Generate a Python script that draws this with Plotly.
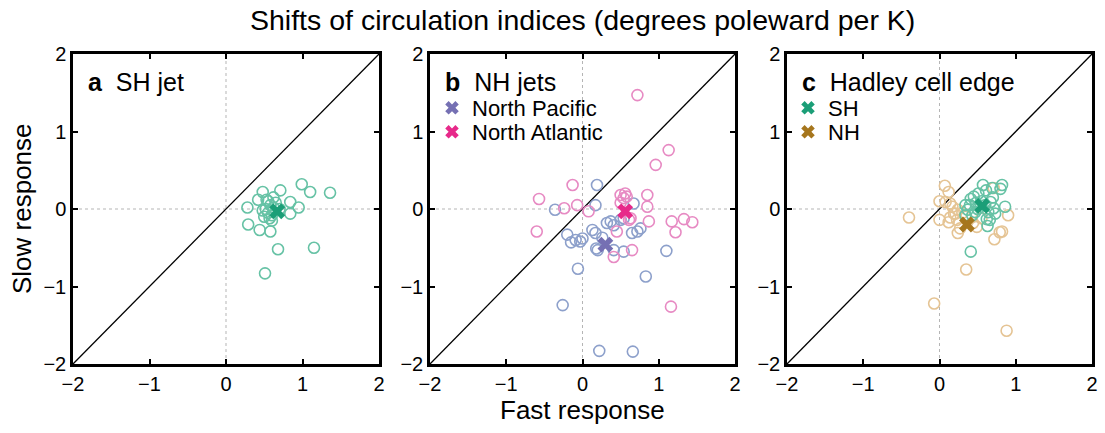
import plotly.graph_objects as go

# ---------------- data ----------------
# Panel a: SH jet
sh_jet_fast = [0.99, 1.10, 1.36, 0.48, 0.71, 0.42, 0.62, 0.28, 0.84, 0.95, 0.84, 0.29, 0.44, 0.58,
               0.68, 1.15, 0.51, 0.55, 0.58, 0.52, 0.55, 0.60, 0.62, 0.50, 0.57, 0.65, 0.70, 0.53, 0.48, 0.60]
sh_jet_slow = [0.32, 0.22, 0.21, 0.22, 0.24, 0.12, 0.15, 0.02, 0.09, 0.02, -0.06, -0.20, -0.27, -0.29,
               -0.52, -0.50, -0.83, 0.10, 0.05, 0.00, -0.05, -0.08, 0.02, -0.10, -0.12, 0.08, 0.00, 0.12, -0.02, -0.15]
sh_jet_mean = [0.67, -0.03]

# Panel b: NH jets
np_fast = [-0.36, 0.19, 0.17, 0.67, -0.20, -0.15, -0.09, -0.03, 0.00, 0.13, 0.17, 0.32, 0.37, 0.41,
           0.50, 0.54, 0.65, 0.72, 0.76, 0.18, 0.20, 0.41, 0.54, 1.10, -0.06, 0.83, -0.26, 0.22, 0.66, 0.26]
np_slow = [-0.01, 0.31, 0.05, 0.07, -0.33, -0.43, -0.40, -0.42, -0.38, -0.27, -0.31, -0.18, -0.16, -0.21,
           -0.14, -0.12, -0.31, -0.29, -0.25, -0.51, -0.53, -0.53, -0.55, -0.54, -0.77, -0.87, -1.24, -1.83, -1.84, -0.37]
np_mean = [0.30, -0.46]

na_fast = [0.72, 1.13, 0.96, -0.13, -0.57, -0.24, -0.07, 0.08, 0.50, 0.56, 0.58, 0.54, 0.85, 0.85,
           0.61, 0.63, 0.87, 1.17, 1.33, 1.44, 1.22, -0.60, 0.45, 0.65, 0.41, 1.16, 0.50]
na_slow = [1.47, 0.76, 0.57, 0.31, 0.13, 0.01, 0.05, -0.03, 0.18, 0.20, 0.16, 0.14, 0.18, 0.03,
           -0.14, -0.12, -0.16, -0.16, -0.13, -0.17, -0.30, -0.29, -0.29, -0.53, -0.62, -1.26, 0.08]
na_mean = [0.56, -0.03]

# Panel c: Hadley cell edge
hsh_fast = [0.57, 0.82, 0.80, 0.69, 0.51, 0.61, 0.41, 0.45, 0.34, 0.37, 0.86, 0.67, 0.71, 0.73,
            0.62, 0.63, 0.47, 0.43, 0.34, 0.41, 0.64, 0.66, 0.55, 0.50, 0.60, 0.40, 0.48, 0.70]
hsh_slow = [0.31, 0.31, 0.26, 0.27, 0.20, 0.24, 0.13, 0.16, 0.05, -0.01, 0.03, 0.09, 0.01, -0.06,
            -0.13, -0.22, -0.04, -0.08, -0.08, -0.55, -0.04, -0.14, 0.10, 0.00, 0.05, 0.05, 0.08, 0.15]
hsh_mean = [0.56, 0.04]

hnh_fast = [-0.40, 0.12, 0.07, 0.08, 0.00, 0.14, 0.17, 0.00, 0.14, 0.21, 0.24, 0.19, 0.12, 0.23,
            0.27, 0.24, 0.49, 0.44, 0.55, 0.71, 0.90, 0.82, 0.72, 0.79, 0.35, -0.07, 0.88, 0.30, 0.35]
hnh_slow = [-0.11, 0.22, 0.30, 0.09, 0.10, 0.07, 0.03, -0.14, -0.11, -0.06, -0.01, -0.06, -0.17, -0.14,
            -0.25, -0.31, -0.23, -0.18, -0.12, 0.27, -0.08, -0.29, -0.39, -0.30, -0.78, -1.22, -1.57, -0.05, -0.10]
hnh_mean = [0.36, -0.20]

diag = [-2, 2]
zero_span = [-2, 2]
tick_vals = [-2, -1, 0, 1, 2]

# ---------------- styling ----------------
FONT = "Liberation Sans, Arial, Helvetica, sans-serif"
W, H = 1105, 433
panel_px = [(73, 379), (430, 735), (787, 1092)]
top_px, bot_px = 54, 364

C_GREEN_L, C_GREEN = "#66c2a5", "#1b9e77"
C_BLUE_L, C_PURPLE = "#8da0cb", "#7570b3"
C_PINK_L, C_PINK = "#e78ac3", "#e7298a"
C_TAN_L, C_BROWN = "#e5c494", "#a6761d"

fig = go.Figure()

def circles(x, y, color, ax):
    fig.add_trace(go.Scatter(x=x, y=y, mode="markers", showlegend=False,
                             marker=dict(symbol="circle-open", size=11, color=color,
                                         line=dict(width=1.6, color=color)),
                             xaxis="x" + ax, yaxis="y" + ax, hoverinfo="skip"))

def cross(m, color, ax, name=None, legend=None):
    fig.add_trace(go.Scatter(x=[m[0]], y=[m[1]], mode="markers", name=name,
                             showlegend=name is not None, legend=legend,
                             marker=dict(symbol="x", size=14, color=color, line=dict(width=0)),
                             xaxis="x" + ax, yaxis="y" + ax))

for ax in ["", "2", "3"]:
    fig.add_trace(go.Scatter(x=[0, 0], y=zero_span, mode="lines", showlegend=False, hoverinfo="skip",
                             line=dict(color="#b5b5b5", width=1, dash="dot"),
                             xaxis="x" + ax, yaxis="y" + ax))
    fig.add_trace(go.Scatter(x=zero_span, y=[0, 0], mode="lines", showlegend=False, hoverinfo="skip",
                             line=dict(color="#b5b5b5", width=1, dash="dot"),
                             xaxis="x" + ax, yaxis="y" + ax))
    fig.add_trace(go.Scatter(x=diag, y=diag, mode="lines", showlegend=False, hoverinfo="skip",
                             line=dict(color="black", width=1.3),
                             xaxis="x" + ax, yaxis="y" + ax))

circles(sh_jet_fast, sh_jet_slow, C_GREEN_L, "")
cross(sh_jet_mean, C_GREEN, "")

circles(np_fast, np_slow, C_BLUE_L, "2")
circles(na_fast, na_slow, C_PINK_L, "2")
cross(np_mean, C_PURPLE, "2", "North Pacific", "legend")
cross(na_mean, C_PINK, "2", "North Atlantic", "legend2")

circles(hnh_fast, hnh_slow, C_TAN_L, "3")
circles(hsh_fast, hsh_slow, C_GREEN_L, "3")
cross(hsh_mean, C_GREEN, "3", "SH", "legend3")
cross(hnh_mean, C_BROWN, "3", "NH", "legend4")

axis_common = dict(range=[-2, 2], tickvals=tick_vals, showgrid=False, zeroline=False,
                   showline=True, linecolor="black", linewidth=2.5, mirror="ticks",
                   ticks="inside", ticklen=5, tickwidth=1.5, tickcolor="black",
                   tickfont=dict(family=FONT, size=20, color="black"), fixedrange=True)

ydom = [1 - bot_px / H, 1 - top_px / H]
layout = dict(width=W, height=H, margin=dict(l=0, r=0, t=0, b=0, autoexpand=False),
              paper_bgcolor="white", plot_bgcolor="white",
              font=dict(family=FONT, color="black"))
names = ["", "2", "3"]
for i, ax in enumerate(names):
    x0, x1 = panel_px[i]
    layout["xaxis" + ax] = dict(axis_common, domain=[x0 / W, x1 / W], anchor="y" + ax)
    layout["yaxis" + ax] = dict(axis_common, domain=ydom, anchor="x" + ax)

leg_common = dict(bgcolor="rgba(0,0,0,0)", font=dict(family=FONT, size=22, color="black"),
                  xanchor="left", yanchor="middle", itemsizing="constant")
legend_pos = [(432, 108), (432, 132), (788, 108), (788, 132)]
for k, (lx, ly) in enumerate(legend_pos):
    key = "legend" if k == 0 else "legend%d" % (k + 1)
    layout[key] = dict(leg_common, x=lx / W, y=1 - ly / H)

fig.update_layout(**layout)

def label(text, xp, yp, size, **kw):
    fig.add_annotation(text=text, x=xp / W, y=1 - yp / H, xref="paper", yref="paper",
                       yanchor="middle", showarrow=False, font=dict(size=size, family=FONT), **kw)

label("Shifts of circulation indices (degrees poleward per K)", 582, 20, 28.5, xanchor="center")
label("Fast response", 582, 410, 26, xanchor="center")
label("Slow response", 22, 209, 26, xanchor="center", textangle=-90)
panel_titles = ["<b>a</b>  SH jet", "<b>b</b>  NH jets", "<b>c</b>  Hadley cell edge"]
for i, t in enumerate(panel_titles):
    label(t, panel_px[i][0] + 13, 82, 25, xanchor="left")

fig.write_html("out.html", config={"displayModeBar": False},
               post_script="document.body.style.margin='0';")
